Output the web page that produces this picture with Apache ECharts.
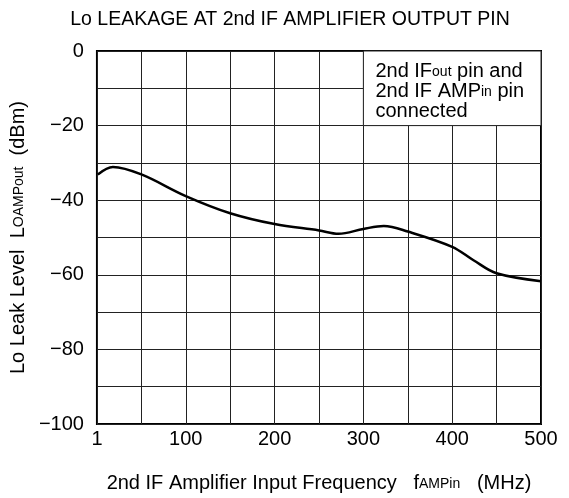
<!DOCTYPE html>
<html>
<head>
<meta charset="utf-8">
<script src="https://cdn.jsdelivr.net/npm/echarts@6/dist/echarts.min.js"></script>
<style>
  html, body { margin: 0; padding: 0; background: #fff; }
  #chart { width: 569px; height: 498px; }
</style>
</head>
<body>
<div id="chart"></div>
<script>
// 曲线数据 (MHz, dBm)
var freq = [1, 18, 50, 100, 150, 200, 250, 272, 300, 323, 350, 400, 424, 450, 500];
var leak = [-33.1, -31.1, -33.1, -38.9, -43.5, -46.4, -48.1, -49.0, -47.7, -46.9, -48.4, -52.5, -56.1, -59.6, -61.7];

// 刻度
var xTicks = [0, 100, 200, 300, 400, 500];
var xTickText = ['1', '100', '200', '300', '400', '500'];
var yTicks = [0, -20, -40, -60, -80, -100];

// 右上角说明框范围
var noteX = [300, 500];
var noteY = [-20, 0];

var font = '"Liberation Sans", Arial, sans-serif';
var subStyle = { fontFamily: font, fontSize: 14, color: '#000', verticalAlign: 'bottom', padding: [0, 0, 2, 0] };
var mainStyle = { fontFamily: font, fontSize: 20, color: '#000', verticalAlign: 'bottom' };

var chart = echarts.init(document.getElementById('chart'));

var points = freq.map(function (f, i) { return [f, leak[i]]; });

var option = {
  animation: false,
  textStyle: { fontFamily: font },
  title: {
    text: 'Lo LEAKAGE AT 2nd IF AMPLIFIER OUTPUT PIN',
    left: 285,
    textAlign: 'center',
    top: 5,
    textStyle: { fontFamily: font, fontSize: 19.5, fontWeight: 'normal', color: '#000' }
  },
  grid: {
    left: 95, right: 28, top: 51, bottom: 71,
    show: true, borderColor: '#000', borderWidth: 2
  },
  xAxis: {
    type: 'value',
    min: 0, max: 500, interval: 50,
    name: '{m|2nd IF Amplifier Input Frequency   f}{s|AMPin}{m|   (MHz)}',
    nameLocation: 'middle',
    nameGap: 49,
    nameTextStyle: { rich: { m: mainStyle, s: subStyle } },
    axisLine: { show: false },
    axisTick: { show: false },
    axisLabel: {
      color: '#000', fontSize: 20, fontFamily: font, margin: 5,
      formatter: function (v) {
        var k = xTicks.indexOf(v);
        return k >= 0 ? xTickText[k] : '';
      }
    },
    splitLine: { show: true, lineStyle: { color: '#222', width: 1 } }
  },
  yAxis: {
    type: 'value',
    min: -100, max: 0, interval: 10,
    name: '{m|Lo Leak Level  L}{s|OAMPout}{m|  (dBm)}',
    nameLocation: 'middle',
    nameRotate: 90,
    nameGap: 54,
    nameTextStyle: { rich: { m: mainStyle, s: subStyle } },
    axisLine: { show: false },
    axisTick: { show: false },
    axisLabel: {
      color: '#000', fontSize: 20, fontFamily: font, margin: 13,
      formatter: function (v) {
        if (yTicks.indexOf(v) < 0) return '';
        return v < 0 ? '\u2212' + (-v) : String(v);
      }
    },
    splitLine: { show: true, lineStyle: { color: '#222', width: 1 } }
  },
  series: [{
    type: 'line',
    data: points,
    smooth: 0.35,
    showSymbol: false,
    lineStyle: { color: '#000', width: 2.5 },
    markArea: {
      silent: true,
      itemStyle: { color: '#fff', borderColor: '#222', borderWidth: 1 },
      label: { show: false },
      data: [[{ coord: [noteX[0], noteY[1]] }, { coord: [noteX[1], noteY[0]] }]]
    }
  }]
};

chart.setOption(option);

// 说明文字，位置由坐标轴换算
var corner = chart.convertToPixel({ gridIndex: 0 }, [noteX[0], noteY[1]]);
chart.setOption({
  graphic: [{
    type: 'text',
    left: corner[0] + 12,
    top: corner[1] + 10,
    z: 100,
    style: {
      text: '{m|2nd IF}{s|out}{m| pin and}\n{m|2nd IF AMP}{s|in}{m| pin}\n{m|connected}',
      rich: {
        m: { fontFamily: font, fontSize: 20, color: '#000', lineHeight: 20, verticalAlign: 'bottom' },
        s: { fontFamily: font, fontSize: 14, color: '#000', lineHeight: 20, verticalAlign: 'bottom', padding: [0, 0, 2, 0] }
      }
    }
  }]
});
</script>
</body>
</html>
